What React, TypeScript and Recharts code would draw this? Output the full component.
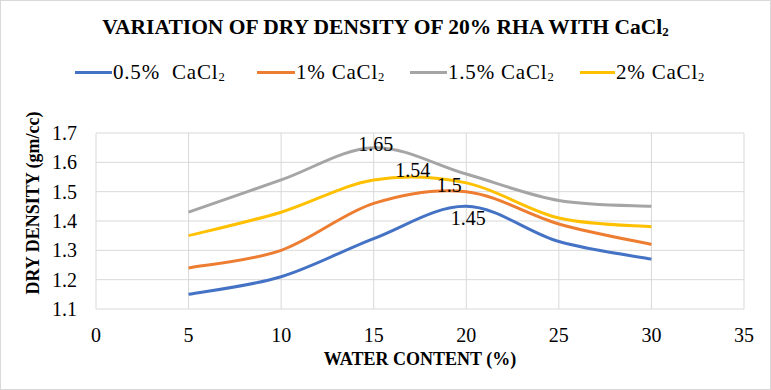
import React from "react";
import { LineChart, Line, XAxis, YAxis, CartesianGrid, LabelList } from "recharts";

const waterContent = [5, 10, 15, 20, 25, 30];
const cacl05 = [1.15, 1.21, 1.34, 1.45, 1.33, 1.27];
const cacl1 = [1.24, 1.3, 1.46, 1.5, 1.39, 1.32];
const cacl15 = [1.43, 1.54, 1.65, 1.56, 1.47, 1.45];
const cacl2 = [1.35, 1.43, 1.54, 1.53, 1.41, 1.38];
const xTicks = [0, 5, 10, 15, 20, 25, 30, 35];
const yTicks = [1.1, 1.2, 1.3, 1.4, 1.5, 1.6, 1.7];
const seriesNames = ["0.5%  CaCl", "1% CaCl", "1.5% CaCl", "2% CaCl"];

const data = waterContent.map((w, i) => ({
  w,
  s05: cacl05[i],
  s1: cacl1[i],
  s15: cacl15[i],
  s2: cacl2[i],
}));

const FONT = "Liberation Serif, Tinos, Times New Roman, DejaVu Serif, serif";

// Excel-like smoothing (Catmull-Rom via cubic Bezier)
const smooth = (ctx: any) => {
  let pts: [number, number][] = [];
  return {
    areaStart() {},
    areaEnd() {},
    lineStart() {
      pts = [];
    },
    point(x: number, y: number) {
      pts.push([+x, +y]);
    },
    lineEnd() {
      const n = pts.length;
      if (!n) return;
      ctx.moveTo(pts[0][0], pts[0][1]);
      for (let i = 0; i < n - 1; i++) {
        const p0 = pts[i - 1] || pts[i];
        const p1 = pts[i];
        const p2 = pts[i + 1];
        const p3 = pts[i + 2] || p2;
        ctx.bezierCurveTo(
          p1[0] + (p2[0] - p0[0]) / 6,
          p1[1] + (p2[1] - p0[1]) / 6,
          p2[0] - (p3[0] - p1[0]) / 6,
          p2[1] - (p3[1] - p1[1]) / 6,
          p2[0],
          p2[1]
        );
      }
    },
  };
};

const makeLabel = (only: number, dx: number, dy: number) => (props: any) => {
  const { x, y, value, index } = props;
  if (index !== only) return null;
  return (
    <text
      x={x + dx}
      y={y + dy + 6.8}
      textAnchor="middle"
      style={{ fontFamily: FONT }}
      fontSize={20}
      fill="#000"
    >
      {value}
    </text>
  );
};

const colors = ["#4472C4", "#ED7D31", "#A5A5A5", "#FFC000"];
const keys = ["s05", "s1", "s15", "s2"];
const legendPos = [
  { x1: 75, x2: 112, t: 113 },
  { x1: 257, x2: 295, t: 296 },
  { x1: 410, x2: 447, t: 448 },
  { x1: 580, x2: 615, t: 616 },
];

const Sub = () => (
  <span style={{ fontSize: "0.6em", position: "relative", top: "0.12em" }}>2</span>
);

const tickStyle = { fontFamily: FONT, fontSize: 20, fill: "#000" };

export default function App() {
  return (
    <div
      style={{
        position: "absolute",
        left: 0,
        top: 0,
        width: 771,
        height: 390,
        background: "#fff",
        border: "1px solid #d9d9d9",
        boxSizing: "border-box",
        overflow: "hidden",
        fontFamily: FONT,
        color: "#000",
      }}
    >
      <div style={{ position: "absolute", left: -1, top: -1 }}>
        <LineChart
          width={771}
          height={390}
          data={data}
          margin={{ top: 133, right: 27, bottom: 0, left: 0 }}
          style={{ fontFamily: FONT }}
        >
          <CartesianGrid stroke="#d9d9d9" strokeWidth={1} />
          <XAxis
            dataKey="w"
            type="number"
            domain={[0, 35]}
            ticks={xTicks}
            axisLine={false}
            tickLine={false}
            tickSize={0}
            tickMargin={19}
            height={81}
            interval={0}
            tick={tickStyle}
          />
          <YAxis
            type="number"
            domain={[1.1, 1.7]}
            ticks={yTicks}
            axisLine={false}
            tickLine={false}
            tickSize={0}
            tickMargin={19}
            width={96}
            interval={0}
            tickFormatter={(v: number) => v.toFixed(1)}
            tick={tickStyle}
          />
          {keys.map((k, i) => (
            <Line
              key={k}
              dataKey={k}
              type={smooth as any}
              stroke={colors[i]}
              strokeWidth={3}
              dot={false}
              activeDot={false}
              isAnimationActive={false}
            />
          ))}
          <Line dataKey="s05" type={smooth as any} stroke="none" dot={false} isAnimationActive={false}>
            <LabelList dataKey="s05" content={makeLabel(3, 2, 12)} />
          </Line>
          <Line dataKey="s1" type={smooth as any} stroke="none" dot={false} isAnimationActive={false}>
            <LabelList dataKey="s1" content={makeLabel(3, -17, -6.5)} />
          </Line>
          <Line dataKey="s15" type={smooth as any} stroke="none" dot={false} isAnimationActive={false}>
            <LabelList dataKey="s15" content={makeLabel(2, 2, -3.5)} />
          </Line>
          <Line dataKey="s2" type={smooth as any} stroke="none" dot={false} isAnimationActive={false}>
            <LabelList dataKey="s2" content={makeLabel(2, 39, -9.5)} />
          </Line>
        </LineChart>
      </div>

      <div
        style={{
          position: "absolute",
          left: -1,
          top: 15,
          width: 771,
          textAlign: "center",
          fontSize: 21.5,
          fontWeight: "bold",
          lineHeight: "22px",
          whiteSpace: "pre",
        }}
      >
        VARIATION OF DRY DENSITY OF 20% RHA WITH CaCl<Sub />
      </div>

      {seriesNames.map((name, i) => (
        <React.Fragment key={name}>
          <div
            style={{
              position: "absolute",
              left: legendPos[i].x1 - 1,
              top: 70,
              width: legendPos[i].x2 - legendPos[i].x1,
              height: 3,
              background: colors[i],
            }}
          />
          <div
            style={{
              position: "absolute",
              left: legendPos[i].t - 1,
              top: 61,
              fontSize: 21,
              lineHeight: "21px",
              letterSpacing: "0.8px",
              whiteSpace: "pre",
            }}
          >
            {name}
            <Sub />
          </div>
        </React.Fragment>
      ))}

      <div
        style={{
          position: "absolute",
          left: 33 - 125 - 1,
          top: 203 - 10 - 1,
          width: 250,
          height: 20,
          lineHeight: "20px",
          textAlign: "center",
          fontSize: 18,
          fontWeight: "bold",
          transform: "rotate(-90deg)",
          whiteSpace: "pre",
        }}
      >
        DRY DENSITY (gm/cc)
      </div>

      <div
        style={{
          position: "absolute",
          left: 420 - 150 - 1,
          top: 349,
          width: 300,
          lineHeight: "18px",
          textAlign: "center",
          fontSize: 18,
          fontWeight: "bold",
          whiteSpace: "pre",
        }}
      >
        WATER CONTENT (%)
      </div>
    </div>
  );
}
